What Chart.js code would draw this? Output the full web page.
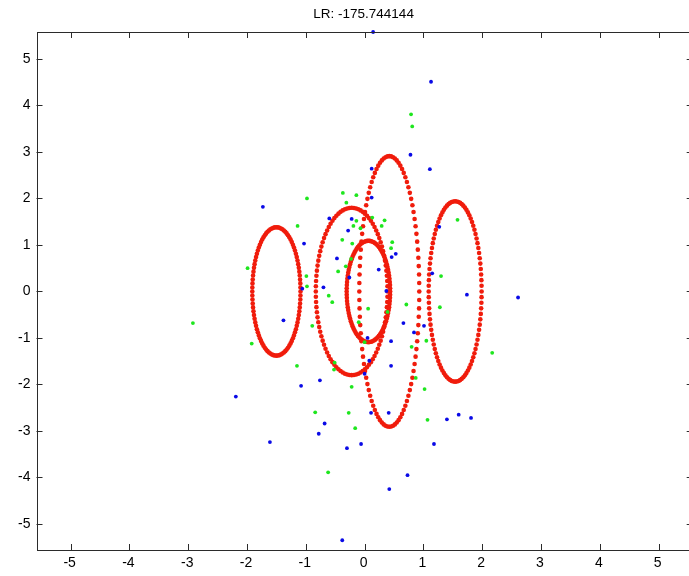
<!DOCTYPE html>
<html>
<head>
<meta charset="utf-8">
<script src="https://cdn.jsdelivr.net/npm/chart.js@4/dist/chart.umd.min.js"></script>
<style>
  html, body { margin: 0; padding: 0; background: #fff; overflow: hidden; }
  #wrap { position: absolute; left: 0; top: 0; width: 700px; height: 576px; }
</style>
</head>
<body>
<div id="wrap"><canvas id="lrChart" width="700" height="576"></canvas></div>
<script>
// title and axis ticks
const chartTitle = 'LR: -175.744144';
const xTicks = [-5, -4, -3, -2, -1, 0, 1, 2, 3, 4, 5];
const yTicks = [-5, -4, -3, -2, -1, 0, 1, 2, 3, 4, 5];

// blue samples
const blueX = [0.145, 1.13, 0.78, -1.73, -0.60, -0.28, -1.03, -0.47, -0.70, -0.26, 0.12, 1.11, 0.12, -0.22,
  0.53, 0.46, 0.24, 0.37, 1.27, 1.15, 1.74, -1.38, -0.76, -1.08, -2.19, -0.68, -0.78, 0.66, 1.01, 0.84,
  0.05, 0.45, 0.08, 0.45, 0.00, 0.11, 0.41, 1.40, 1.60, 1.81, -1.61, -0.30, -0.06, 1.18, 0.73, 0.42,
  -0.38, 2.61, -1.06];
const blueY = [5.58, 4.51, 2.94, 1.82, 1.57, 1.31, 1.03, 0.71, 0.09, 0.30, 2.64, 2.63, 2.02, 1.56,
  0.81, 0.74, 0.47, 0.01, 1.39, 0.39, -0.07, -0.62, -1.91, -2.03, -2.26, -2.84, -3.06, -0.68, -0.74, -0.88,
  -1.00, -1.07, -1.49, -1.60, -1.77, -2.61, -2.61, -2.75, -2.65, -2.72, -3.24, -3.37, -3.28, -3.28, -3.95, -4.25,
  -5.35, -0.13, 0.06];

// green samples
const greenX = [0.79, 0.81, -0.98, -0.37, -0.31, -1.14, -0.38, -0.32, -0.45, -1.99, -0.99, -0.98, -0.61,
  -0.14, -0.14, 0.13, 0.34, -0.19, -0.07, 0.29, -0.21, 0.47, 0.45, -0.23, 1.58, 1.30, -0.55, -2.92,
  -0.89, -1.92, -1.15, -0.51, -0.52, -0.84, -0.27, 0.06, 0.71, 1.28, -0.10, 0.39, 0.00, 1.05, 0.80,
  2.17, 0.87, -0.22, 1.02, 1.07, -0.16, -0.62];
const greenY = [3.81, 3.55, 2.00, 2.12, 1.91, 1.41, 1.11, 0.54, 0.43, 0.50, 0.33, 0.11, -0.09,
  2.07, 1.52, 1.59, 1.53, 1.41, 1.36, 1.41, 1.03, 1.06, 0.93, 0.70, 1.54, 0.33, -0.23, -0.68,
  -0.74, -1.12, -1.60, -1.53, -1.68, -2.60, -2.61, -0.37, -0.28, -0.34, -0.66, -0.44, -1.09, -1.06, -1.19,
  -1.32, -1.86, -2.05, -2.10, -2.76, -2.94, -3.89];

// red component contours: centre and semi-axes of each ellipse
const ellipseCx = [-1.50, -0.22, 0.42, 0.065, 1.54];
const ellipseCy = [0, 0, 0, 0, 0];
const ellipseRx = [0.41, 0.61, 0.51, 0.37, 0.45];
const ellipseRy = [1.38, 1.80, 2.91, 1.09, 1.94];
const ellipseSteps = 100;

function toPoints(xs, ys) {
  return xs.map((x, i) => ({ x: x, y: ys[i] }));
}

function ellipsePoints() {
  const pts = [];
  for (let k = 0; k < ellipseCx.length; k++) {
    for (let i = 0; i < ellipseSteps; i++) {
      const t = 2 * Math.PI * i / ellipseSteps;
      pts.push({ x: ellipseCx[k] + ellipseRx[k] * Math.cos(t), y: ellipseCy[k] + ellipseRy[k] * Math.sin(t) });
    }
  }
  return pts;
}

/**
 * Box frame, inward ticks, tick labels and title (MATLAB look)
 */
const boxAxes = {
  id: 'boxAxes',
  afterDraw(chart) {
    const ctx = chart.ctx;
    const a = chart.chartArea;
    const sx = chart.scales.x;
    const sy = chart.scales.y;
    const tl = 6;
    ctx.save();
    ctx.strokeStyle = '#2b2b2b';
    ctx.lineWidth = 1;
    ctx.strokeRect(Math.round(a.left) + 0.5, Math.round(a.top) + 0.5,
      Math.round(a.right - a.left), Math.round(a.bottom - a.top));
    ctx.beginPath();
    xTicks.forEach(v => {
      const px = Math.round(sx.getPixelForValue(v)) + 0.5;
      ctx.moveTo(px, a.bottom); ctx.lineTo(px, a.bottom - tl);
      ctx.moveTo(px, a.top); ctx.lineTo(px, a.top + tl);
    });
    yTicks.forEach(v => {
      const py = Math.round(sy.getPixelForValue(v)) + 0.5;
      ctx.moveTo(a.left, py); ctx.lineTo(a.left + tl, py);
      ctx.moveTo(a.right, py); ctx.lineTo(a.right - tl, py);
    });
    ctx.stroke();

    ctx.fillStyle = '#000';
    ctx.font = '14px "Liberation Sans", Arial, sans-serif';
    ctx.textAlign = 'center';
    ctx.textBaseline = 'top';
    xTicks.forEach(v => {
      ctx.fillText(String(v), sx.getPixelForValue(v) - 1, a.bottom + 6);
    });
    ctx.textAlign = 'right';
    ctx.textBaseline = 'middle';
    yTicks.forEach(v => {
      ctx.fillText(String(v), a.left - 6, sy.getPixelForValue(v));
    });

    ctx.font = '13.5px "Liberation Sans", Arial, sans-serif';
    ctx.textAlign = 'center';
    ctx.textBaseline = 'middle';
    ctx.fillText(chartTitle, (a.left + a.right) / 2 - 1, 14);
    ctx.restore();
  }
};

const whiteBg = {
  id: 'whiteBg',
  beforeDraw(chart) {
    const ctx = chart.ctx;
    ctx.save();
    ctx.fillStyle = '#fff';
    ctx.fillRect(0, 0, chart.width, chart.height);
    ctx.restore();
  }
};

new Chart(document.getElementById('lrChart'), {
  type: 'scatter',
  data: {
    datasets: [
      {
        label: 'green',
        data: toPoints(greenX, greenY),
        backgroundColor: '#1ee61e',
        borderWidth: 0,
        pointRadius: 1.9,
        order: 0,
        clip: false
      },
      {
        label: 'blue',
        data: toPoints(blueX, blueY),
        backgroundColor: '#0a0ae6',
        borderWidth: 0,
        pointRadius: 1.9,
        order: 1,
        clip: false
      },
      {
        label: 'components',
        data: ellipsePoints(),
        backgroundColor: '#f01c0c',
        borderWidth: 0,
        pointRadius: 2.3,
        order: 2,
        clip: false
      }
    ]
  },
  options: {
    responsive: false,
    animation: false,
    events: [],
    layout: {
      padding: { left: 36.5, top: 32, right: 7.3, bottom: 26 }
    },
    plugins: {
      legend: { display: false },
      title: { display: false },
      tooltip: { enabled: false }
    },
    scales: {
      x: { type: 'linear', min: -5.58, max: 5.58, display: false },
      y: { type: 'linear', min: -5.56, max: 5.58, display: false }
    }
  },
  plugins: [whiteBg, boxAxes]
});
</script>
</body>
</html>
